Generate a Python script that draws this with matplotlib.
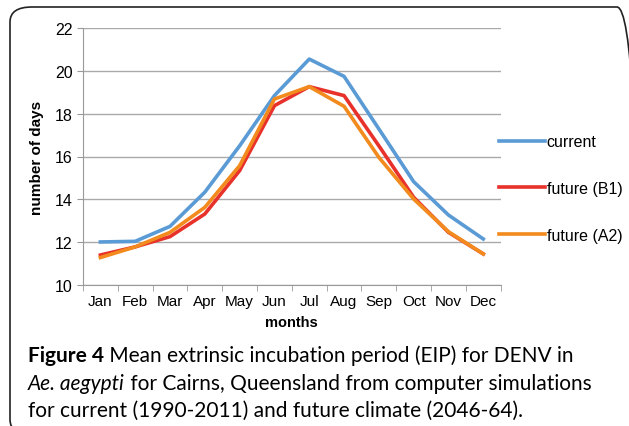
import matplotlib
matplotlib.use("Agg")
import matplotlib.pyplot as plt
from matplotlib.patches import FancyBboxPatch

months = ["Jan", "Feb", "Mar", "Apr", "May", "Jun", "Jul", "Aug", "Sep", "Oct", "Nov", "Dec"]
current = [12.0, 12.03, 12.73, 14.33, 16.5, 18.85, 20.56, 19.75, 17.29, 14.82, 13.26, 12.14]
future_b1 = [11.39, 11.77, 12.25, 13.31, 15.34, 18.38, 19.27, 18.85, 16.5, 14.09, 12.45, 11.44]
future_a2 = [11.27, 11.77, 12.45, 13.62, 15.57, 18.69, 19.27, 18.35, 15.96, 14.01, 12.48, 11.44]

series = [("current", current, "#5b9bd5"),
          ("future (B1)", future_b1, "#e8312a"),
          ("future (A2)", future_a2, "#f28a1e")]

W, H = 629, 427
fig = plt.figure(figsize=(W / 100, H / 100), dpi=100)

# rounded frame around the figure
frame = FancyBboxPatch((10 / W, -0.02), 1.0, (H - 8) / H + 0.02,
                       boxstyle="round,pad=0,rounding_size=0.035",
                       transform=fig.transFigure, fill=False,
                       edgecolor="#222222", linewidth=1.2)
fig.patches.append(frame)

ax = fig.add_axes([83 / W, 1 - 285.7 / H, (500.7 - 83) / W, (285.7 - 29.3) / H])

x = list(range(len(months)))
for name, vals, col in series:
    ax.plot(x, vals, color=col, lw=2.6, label=name)

ax.set_xlim(-0.5, 11.5)
ax.set_ylim(10, 22)
ax.set_yticks(range(10, 23, 2))
ax.set_xticks(x)
ax.set_xticklabels(months, fontsize=11, family="Liberation Sans")
ax.set_xticks([i - 0.5 for i in range(13)], minor=True)
ax.tick_params(axis="x", which="major", length=0, pad=7)
ax.tick_params(axis="x", which="minor", length=4, color="#999999")
ax.tick_params(axis="y", length=4, color="#999999", labelsize=11.5)
for lab in ax.get_yticklabels():
    lab.set_family("Liberation Sans")
ax.grid(axis="y", color="#aaaaaa", lw=1)
ax.set_axisbelow(True)
for s in ["top", "right"]:
    ax.spines[s].set_visible(False)
ax.spines["left"].set_color("#999999")
ax.spines["bottom"].set_color("#999999")

ax.set_ylabel("number of days", fontsize=11, fontweight="bold", family="Liberation Sans", labelpad=8)
ax.set_xlabel("months", fontsize=10.5, fontweight="bold", family="Liberation Sans", labelpad=5)

leg = ax.legend(loc="center left", bbox_to_anchor=(0.995, 0.375), frameon=False,
                handlelength=2.9, handletextpad=0.1, labelspacing=2.0,
                borderaxespad=0, borderpad=0,
                prop={"family": "Liberation Sans", "size": 11.5})

# caption with mixed bold / italic runs
renderer = fig.canvas.get_renderer()
cap = dict(fontsize=15, family="Lato", va="baseline")


def runs(x0, y0, parts):
    xx = x0
    for s, extra in parts:
        t = fig.text(xx / W, 1 - y0 / H, s, **cap, **extra)
        xx += t.get_window_extent(renderer).width


runs(28, 362, [("Figure 4", {"fontweight": "bold"}),
               (" Mean extrinsic incubation period (EIP) for DENV in", {})])
runs(28, 390, [("Ae. aegypti", {"style": "italic"}),
               (" for Cairns, Queensland from computer simulations", {})])
runs(28, 417, [("for current (1990-2011) and future climate (2046-64).", {})])

fig.savefig("out.png", dpi=100)
